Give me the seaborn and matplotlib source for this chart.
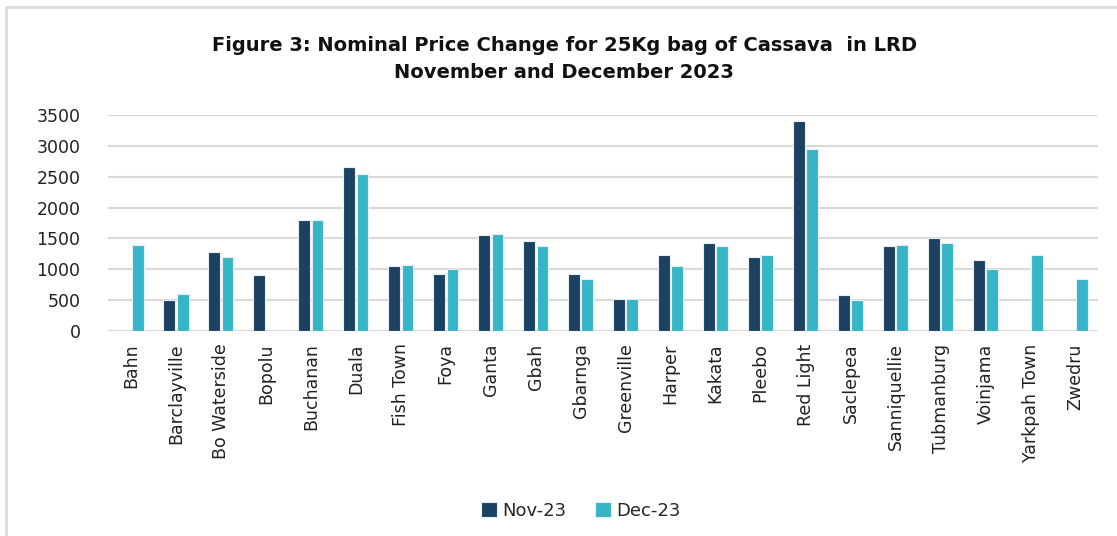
import numpy as np
import pandas as pd
import matplotlib
matplotlib.use("Agg")
import matplotlib.pyplot as plt
from matplotlib.lines import Line2D
import seaborn as sns

# ── Data (LRD per 25Kg bag of cassava) ─────────────────────────────────────────
markets = ["Bahn", "Barclayville", "Bo Waterside", "Bopolu", "Buchanan", "Duala",
           "Fish Town", "Foya", "Ganta", "Gbah", "Gbarnga", "Greenville", "Harper",
           "Kakata", "Pleebo", "Red Light", "Saclepea", "Sanniquellie",
           "Tubmanburg", "Voinjama", "Yarkpah Town", "Zwedru"]
nov_23 = [np.nan, 500, 1275, 900, 1800, 2650, 1050, 925, 1550, 1450, 925, 525,
          1225, 1425, 1200, 3400, 575, 1375, 1500, 1150, np.nan, np.nan]
dec_23 = [1400, 600, 1200, np.nan, 1800, 2550, 1075, 1000, 1575, 1375, 850, 525,
          1050, 1375, 1225, 2950, 500, 1400, 1425, 1000, 1225, 850]
periods = ["Nov-23", "Dec-23"]
colors = ["#1B4263", "#36B5C6"]
yticks = [0, 500, 1000, 1500, 2000, 2500, 3000, 3500]

df = pd.DataFrame({"market": markets, "Nov-23": nov_23, "Dec-23": dec_23})
long = df.melt(id_vars="market", var_name="period", value_name="price")

# ── Plot ───────────────────────────────────────────────────────────────────────
sns.set_style("white")
plt.rcParams["font.family"] = ["DejaVu Sans"]

fig = plt.figure(figsize=(11.17, 5.36), dpi=100)
ax = fig.add_axes([0.097, 0.3825, 0.886, 0.403])

sns.barplot(data=long, x="market", y="price", hue="period", order=markets,
            hue_order=periods, palette=colors, saturation=1, width=0.6, gap=0.12,
            edgecolor="#E8EEF2", linewidth=0.8, errorbar=None, ax=ax)

ax.set_ylim(0, 3500)
ax.set_yticks(yticks)
ax.set_yticklabels([str(t) for t in yticks], fontsize=12.5, color="#222222")
ax.yaxis.grid(True, color="#D9D9D9", linewidth=1.5)
ax.set_axisbelow(True)
for s in ax.spines.values():
    s.set_visible(False)
ax.tick_params(axis="both", length=0)
ax.tick_params(axis="y", pad=20)
ax.tick_params(axis="x", pad=9)
plt.setp(ax.get_xticklabels(), rotation=90, fontsize=12.5, color="#222222")
ax.set_xlabel("")
ax.set_ylabel("")

ax.legend(loc="lower center", bbox_to_anchor=(0.52, 0.0), bbox_transform=fig.transFigure,
          ncol=2, frameon=False, fontsize=13, handlelength=0.85, handleheight=0.85,
          handletextpad=0.3, columnspacing=1.6)

fig.text(0.505, 0.915, "Figure 3: Nominal Price Change for 25Kg bag of Cassava  in LRD",
         ha="center", va="center", fontsize=14, fontweight="bold", color="#111111")
fig.text(0.505, 0.865, "November and December 2023",
         ha="center", va="center", fontsize=14, fontweight="bold", color="#111111")

# light frame on left and top edges, like the source screenshot
fig.add_artist(Line2D([6 / 1117, 6 / 1117], [0, 1 - 7 / 536], transform=fig.transFigure,
                      color="#DDDDDD", linewidth=2))
fig.add_artist(Line2D([6 / 1117, 1], [1 - 7 / 536, 1 - 7 / 536], transform=fig.transFigure,
                      color="#DDDDDD", linewidth=2))

fig.savefig("out.png", dpi=100)
